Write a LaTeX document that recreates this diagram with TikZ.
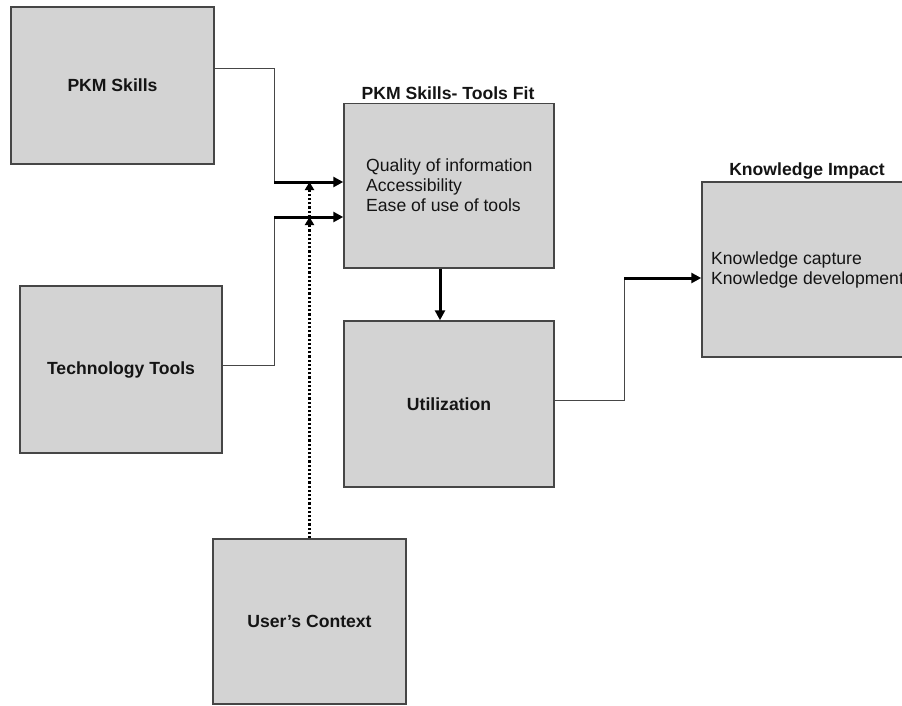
\documentclass[tikz,border=0pt]{standalone}
\usepackage{fontspec}
\setmainfont{Liberation Sans}
\usetikzlibrary{arrows.meta}
\definecolor{boxfill}{RGB}{211,211,211}
\definecolor{boxline}{RGB}{70,70,70}
\definecolor{txt}{RGB}{20,20,20}
\begin{document}
\begin{tikzpicture}[x=1pt,y=-1pt,
  box/.style={draw=boxline, line width=1.5pt, fill=boxfill, inner sep=0pt,
    font=\fontsize{17.6}{20}\selectfont\bfseries, text=txt},
  bodytext/.style={inner sep=0pt, align=left, anchor=west,
    font=\fontsize{17.6}{20}\selectfont, text=txt},
  titletext/.style={inner sep=0pt, font=\fontsize{17.6}{20}\selectfont\bfseries, text=txt},
  thinline/.style={draw=boxline, line width=1pt},
  thickarrow/.style={draw=black, line width=3pt, -{Triangle[length=10pt,width=10pt]}},
  dotarrow/.style={draw=black, line width=3pt, dash pattern=on 2.2pt off 2pt,
    -{Triangle[length=8pt,width=9pt]}}
]
\useasboundingbox (0,0) rectangle (902,705);

% boxes
\node[box, minimum width=203pt, minimum height=157pt] (pkm) at (112.5,85.5) {PKM Skills};
\node[box, minimum width=202pt, minimum height=167pt] (tech) at (121,369.5) {Technology Tools};
\node[box, minimum width=210pt, minimum height=164.5pt] (fit) at (449,185.75) {};
\node[box, minimum width=210pt, minimum height=166pt] (util) at (449,404) {Utilization};
\node[box, minimum width=210pt, minimum height=175pt] (ki) at (807,269.5) {};
\node[box, minimum width=193pt, minimum height=165pt] (uc) at (309.5,621.5) {User's Context};

% titles
\node[titletext] (fittitle) at (448,93) {PKM Skills- Tools Fit};
\node[titletext] (kititle) at (807,171) {Knowledge Impact};

% inner texts
\node[bodytext] (fittext) at (366,185) {Quality of information\\Accessibility\\Ease of use of tools};
\node[bodytext] (kitext) at (711,270) {Knowledge capture\\Knowledge development};

% junction coordinates
\coordinate (j0) at (274,68);
\coordinate (j1) at (274,182);
\coordinate (j2) at (274,217);
\coordinate (j3) at (274,365);
\coordinate (k0) at (624,400);
\coordinate (k1) at (624,278);
\coordinate (f0) at (440,268);

% thin connectors
\draw[thinline] (pkm.east |- j0) -- (j0) -- (j1);
\draw[thinline] (tech.east |- j3) -- (j3) -- (j2);
\draw[thinline] (util.east |- k0) -- (k0) -- (k1);

% thick arrows
\draw[thickarrow] (j1) -- (fit.west |- j1);
\draw[thickarrow] (j2) -- (fit.west |- j2);
\draw[thickarrow] (k1) -- (ki.west |- k1);
\draw[thickarrow] (fit.south -| f0) -- (util.north -| f0);

% dotted arrows from user's context
\coordinate (d2) at (uc.north |- j2);
\coordinate (d1) at (uc.north |- j1);
\draw[dotarrow] (uc.north) -- (d2);
\draw[dotarrow] (d2) -- (d1);
\end{tikzpicture}
\end{document}
